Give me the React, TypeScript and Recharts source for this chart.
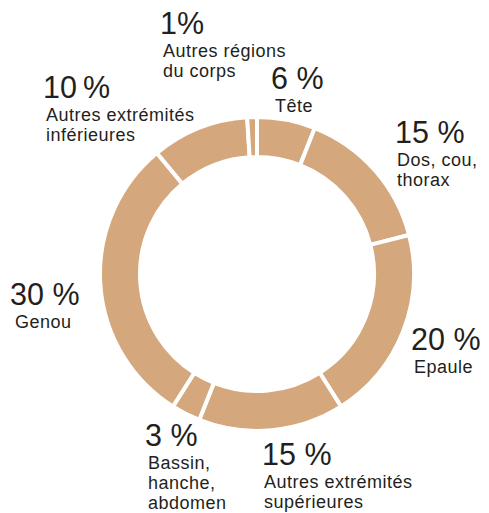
import { Cell, Pie, PieChart } from 'recharts';

const regions = [
  'Tête',
  'Dos, cou, thorax',
  'Epaule',
  'Autres extrémités supérieures',
  'Bassin, hanche, abdomen',
  'Genou',
  'Autres extrémités inférieures',
  'Autres régions du corps',
];
const shares = [6, 15, 20, 15, 3, 30, 10, 1];
const shareLabels = ['6 %', '15 %', '20 %', '15 %', '3 %', '30 %', '10\u2009%', '1%'];
const labelLines = [
  ['Tête'],
  ['Dos, cou,', 'thorax'],
  ['Epaule'],
  ['Autres extrémités', 'supérieures'],
  ['Bassin,', 'hanche,', 'abdomen'],
  ['Genou'],
  ['Autres extrémités', 'inférieures'],
  ['Autres régions', 'du corps'],
];

const data = regions.map((name, i) => ({ name, value: shares[i] }));

// hand placed label anchors, offsets from the pie centre (x, baseline of the big number, x of the caption)
const labelPos = [
  { x: 14, y: -185, lx: 18 },
  { x: 138, y: -131, lx: 140 },
  { x: 154, y: 76, lx: 157 },
  { x: 5, y: 191, lx: 7 },
  { x: -112, y: 172, lx: -109 },
  { x: -247, y: 31, lx: -242 },
  { x: -214, y: -176, lx: -211 },
  { x: -97, y: -240, lx: -94 },
];

const CX = 257;
const CY = 274;
const FONT = '"Liberation Sans", Arial, Helvetica, sans-serif';
const INK = '#231f20';
const GAP = 23;
const LINE = 20;

function renderLabel(props: any) {
  const { index } = props;
  const p = labelPos[index];
  const y = CY + p.y;
  return (
    <g key={`lbl-${index}`}>
      <text x={CX + p.x} y={y} fill={INK} fontFamily={FONT} fontSize={30.5}>
        {shareLabels[index]}
      </text>
      {labelLines[index].map((line, j) => (
        <text
          key={j}
          x={CX + p.lx}
          y={y + GAP + j * LINE}
          fill={INK}
          fontFamily={FONT}
          fontSize={18}
          letterSpacing={0.5}
        >
          {line}
        </text>
      ))}
    </g>
  );
}

export default function App() {
  return (
    <div style={{ position: 'absolute', left: 0, top: 0, width: 489, height: 513, background: '#fff' }}>
      <PieChart width={489} height={513} margin={{ top: 0, right: 0, bottom: 0, left: 0 }}>
        <Pie
          data={data}
          dataKey="value"
          nameKey="name"
          cx={CX}
          cy={CY}
          innerRadius={117}
          outerRadius={157}
          startAngle={90}
          endAngle={-270}
          stroke="#ffffff"
          strokeWidth={4}
          label={renderLabel}
          labelLine={false}
          isAnimationActive={false}
        >
          {data.map((d) => (
            <Cell key={d.name} fill="#d4a77c" />
          ))}
        </Pie>
      </PieChart>
    </div>
  );
}
